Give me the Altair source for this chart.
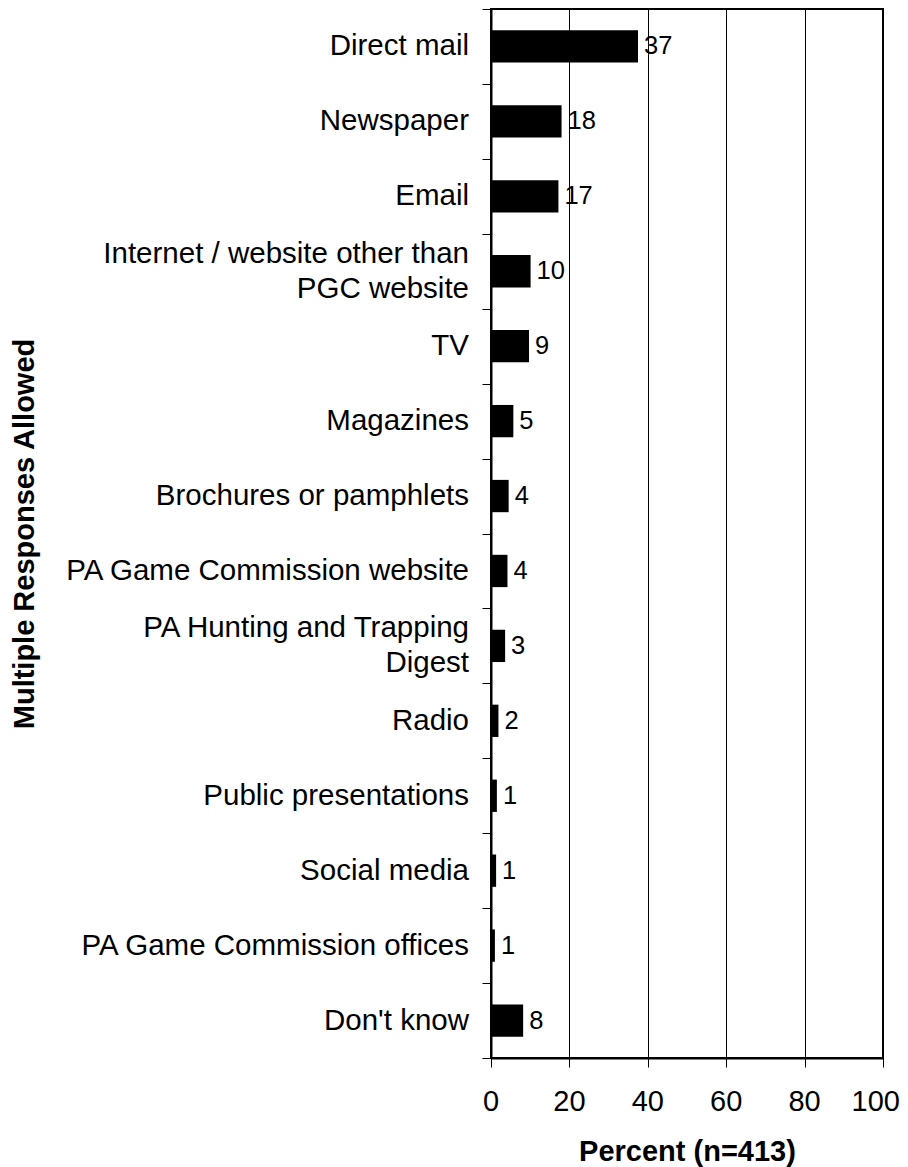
import altair as alt
import pandas as pd

categories = [
    "Direct mail",
    "Newspaper",
    "Email",
    "Internet / website other than|PGC website",
    "TV",
    "Magazines",
    "Brochures or pamphlets",
    "PA Game Commission website",
    "PA Hunting and Trapping|Digest",
    "Radio",
    "Public presentations",
    "Social media",
    "PA Game Commission offices",
    "Don't know",
]
percent = [37.5, 18.0, 17.2, 10.1, 9.7, 5.7, 4.5, 4.2, 3.6, 1.9, 1.5, 1.3, 1.0, 8.2]
shown = [37, 18, 17, 10, 9, 5, 4, 4, 3, 2, 1, 1, 1, 8]
x_ticks = [0, 20, 40, 60, 80, 100]

df = pd.DataFrame({"source": categories, "pct": percent, "label": [str(v) for v in shown]})
ticks_df = pd.DataFrame({"tick": x_ticks, "tick_label": [str(t) for t in x_ticks]})

FONT = "Liberation Sans"
W, H = 392, 1049

x_scale = alt.Scale(domain=[0, 100], nice=False)
x_enc = alt.X(
    "pct:Q",
    scale=x_scale,
    axis=alt.Axis(
        values=x_ticks,
        labels=False,
        title="Percent (n=413)",
        grid=True, gridColor="black", gridWidth=1,
        tickSize=9, tickColor="black", tickWidth=1,
        domainColor="black", domainWidth=2,
        titleFont=FONT, titleFontSize=29, titleFontWeight="bold", titleColor="black",
        titleBaseline="alphabetic", titleY=102, titleX=W / 2, titleAlign="center",
    ),
)
y_scale = alt.Scale(paddingInner=0, paddingOuter=0)
y_enc = alt.Y(
    "source:N",
    sort=categories,
    scale=y_scale,
    axis=alt.Axis(
        title="Multiple Responses Allowed",
        labels=False,
        tickBand="extent",
        grid=False,
        tickSize=9, tickColor="black", tickWidth=1,
        domainColor="black", domainWidth=2,
        titleFont=FONT, titleFontSize=29, titleFontWeight="bold", titleColor="black",
        titleAngle=270, titleBaseline="alphabetic", titleAlign="center",
        titleX=-457.7, titleY=H / 2,
    ),
)

base = alt.Chart(df)
bars = base.mark_bar(color="black", size=32.3).encode(x=x_enc, y=y_enc)
values_text = base.mark_text(
    align="left", baseline="middle", dx=6, fontSize=25.5, font=FONT, color="black"
).encode(x=alt.X("pct:Q"), y=alt.Y("source:N", sort=categories), text="label:N")

# category labels (two-line labels centred on their band)
cat_style = dict(align="right", baseline="middle", fontSize=29.5, font=FONT, color="black",
                 lineBreak="|", lineHeight=35)
cat_one = base.transform_filter("indexof(datum.source, '|') < 0").mark_text(**cat_style).encode(
    x=alt.value(-22), y=alt.Y("source:N", sort=categories), text="source:N")
cat_two = base.transform_filter("indexof(datum.source, '|') >= 0").mark_text(dy=-17.5, **cat_style).encode(
    x=alt.value(-22), y=alt.Y("source:N", sort=categories), text="source:N")

# x tick labels (last one kept inside the page)
tick_style = dict(baseline="alphabetic", fontSize=29, font=FONT, color="black")
tick_base = alt.Chart(ticks_df)
ticks_mid = tick_base.transform_filter("datum.tick < 100").mark_text(align="center", **tick_style).encode(
    x=alt.X("tick:Q", scale=x_scale), y=alt.value(H + 52.7), text="tick_label:N")
ticks_end = tick_base.transform_filter("datum.tick >= 100").mark_text(align="right", dx=17, **tick_style).encode(
    x=alt.X("tick:Q", scale=x_scale), y=alt.value(H + 52.7), text="tick_label:N")

chart = (
    alt.layer(bars, values_text, cat_one, cat_two, ticks_mid, ticks_end)
    .properties(
        width=W, height=H,
        padding={"left": 483, "top": 1, "right": 17, "bottom": 115},
        autosize=alt.AutoSizeParams(type="none"),
        background="white",
    )
    .configure_view(stroke="black", strokeWidth=2)
)

chart.save("out.html", embed_options={"renderer": "svg", "actions": False})
